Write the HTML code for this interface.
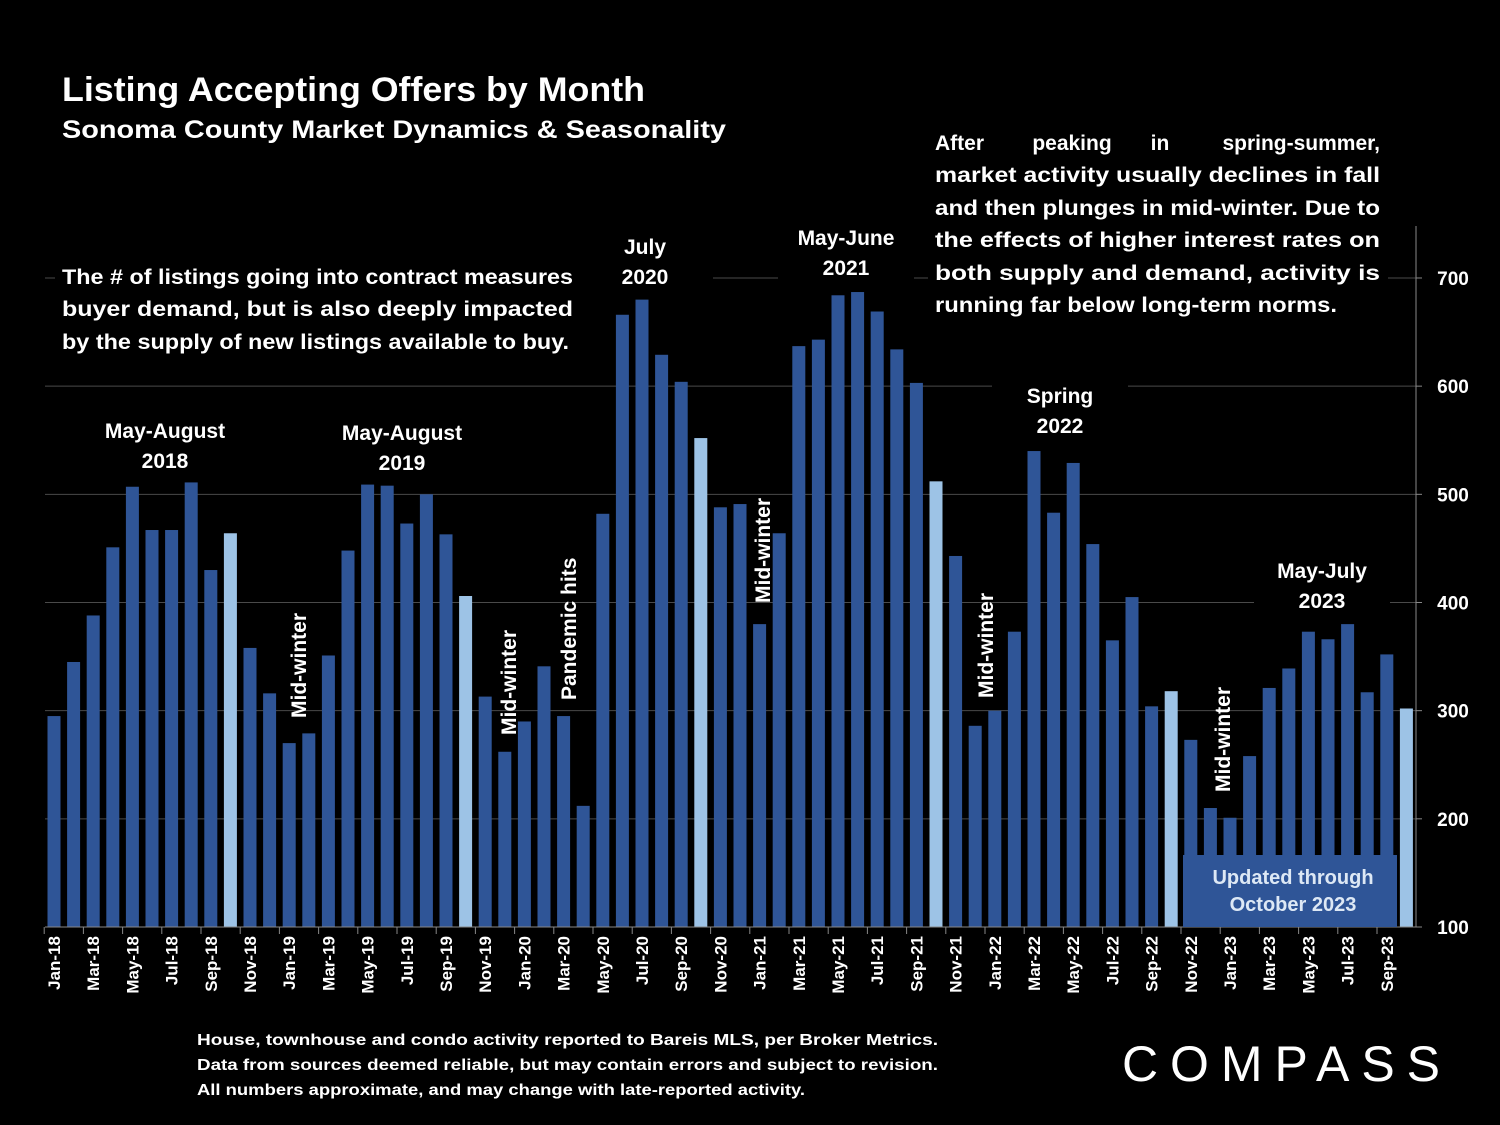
<!DOCTYPE html>
<html><head><meta charset="utf-8"><style>
html,body{margin:0;padding:0;background:#000;}
svg{display:block;font-family:"Liberation Sans",sans-serif;font-weight:bold;}
</style></head><body>
<svg id="chart" width="1500" height="1125" viewBox="0 0 1500 1125" xmlns="http://www.w3.org/2000/svg">
<rect width="1500" height="1125" fill="#000"/>
<g id="grid"></g>
<g id="bars"></g>
<g id="axes"></g>
<text x="62" y="101" fill="#fff" font-size="34" textLength="583" lengthAdjust="spacingAndGlyphs">Listing Accepting Offers by Month</text>
<text x="62" y="138" fill="#fff" font-size="25" textLength="664" lengthAdjust="spacingAndGlyphs">Sonoma County Market Dynamics &amp; Seasonality</text>
<g fill="#fff" font-size="21">
<rect x="55" y="258" width="525" height="100" fill="#000"/>
<text x="62" y="284" textLength="511" lengthAdjust="spacingAndGlyphs">The # of listings going into contract measures</text>
<text x="62" y="316" textLength="511" lengthAdjust="spacingAndGlyphs">buyer demand, but is also deeply impacted</text>
<text x="62" y="349" textLength="507" lengthAdjust="spacingAndGlyphs">by the supply of new listings available to buy.</text>
</g>
<g fill="#fff" font-size="21">
<rect x="928" y="122" width="460" height="200" fill="#000"/>
<text x="935" y="150">After</text>
<text x="1072" y="150" text-anchor="middle">peaking</text>
<text x="1160" y="150" text-anchor="middle">in</text>
<text x="1380" y="150" text-anchor="end">spring-summer,</text>
<text x="935" y="182" textLength="445" lengthAdjust="spacingAndGlyphs">market activity usually declines in fall</text>
<text x="935" y="215" textLength="445" lengthAdjust="spacingAndGlyphs">and then plunges in mid-winter. Due to</text>
<text x="935" y="247" textLength="445" lengthAdjust="spacingAndGlyphs">the effects of higher interest rates on</text>
<text x="935" y="280" textLength="445" lengthAdjust="spacingAndGlyphs">both supply and demand, activity is</text>
<text x="935" y="312" textLength="402" lengthAdjust="spacingAndGlyphs">running far below long-term norms.</text>
</g>
<g id="annots" fill="#fff" font-size="21" text-anchor="middle"></g>
<g>
<rect x="1183" y="855" width="214" height="72" fill="#2f5597"/>
<text x="1293" y="884" fill="#dde8f5" font-size="20" text-anchor="middle">Updated through</text>
<text x="1293" y="911" fill="#dde8f5" font-size="20" text-anchor="middle">October 2023</text>
</g>
<g fill="#fff" font-size="16">
<text x="197" y="1045" textLength="741" lengthAdjust="spacingAndGlyphs">House, townhouse and condo activity reported to Bareis MLS, per Broker Metrics.</text>
<text x="197" y="1070" textLength="741" lengthAdjust="spacingAndGlyphs">Data from sources deemed reliable, but may contain errors and subject to revision.</text>
<text x="197" y="1095" textLength="608" lengthAdjust="spacingAndGlyphs">All numbers approximate, and may change with late-reported activity.</text>
</g>
<g>
<text x="1122" y="1081" fill="#fff" font-size="50" font-weight="normal" textLength="318" lengthAdjust="spacing">COMPASS</text>
</g>
<script>
const months = ["Jan","Feb","Mar","Apr","May","Jun","Jul","Aug","Sep","Oct","Nov","Dec"];
const categories = [];
for (let y = 18; y <= 23; y++) for (let m = 0; m < 12; m++) { if (y === 23 && m > 9) break; categories.push(months[m] + "-" + y); }
const values = [295,345,388,451,507,467,467,511,430,464,358,316,
270,279,351,448,509,508,473,500,463,406,313,262,
290,341,295,212,482,666,680,629,604,552,488,491,
380,464,637,643,684,687,669,634,603,512,443,286,
300,373,540,483,529,454,365,405,304,318,273,210,
201,258,321,339,373,366,380,317,352,302];
const yTicks = [100,200,300,400,500,600,700];
const highlightMonth = "Oct";

const NS = "http://www.w3.org/2000/svg";
const x0 = 54, step = 19.6, bw = 13;
const yScale = v => 927 - (v - 100) * 1.0817;
const xScale = i => x0 + i * step;
function mk(tag, attrs, parent) { const e = document.createElementNS(NS, tag); for (const k in attrs) e.setAttribute(k, attrs[k]); parent.appendChild(e); return e; }

const grid = document.getElementById("grid");
const axes = document.getElementById("axes");
yTicks.forEach(t => {
  if (t > 100) {
    const l = mk("line", {x1: 45, x2: 1416, y1: yScale(t), y2: yScale(t), stroke: "#4a4a4a", "stroke-width": 1}, grid);
    
    
  }
  const tx = mk("text", {x: 1453, y: yScale(t) + 7, fill: "#fff", "font-size": 19, "text-anchor": "middle"}, axes);
  tx.textContent = t;
  
  
  const tk = mk("line", {x1: 1416, x2: 1422, y1: yScale(t), y2: yScale(t), stroke: "#888"}, axes);
  
  
});
const yaxis = mk("line", {x1: 1416, x2: 1416, y1: 226, y2: 927, stroke: "#888"}, axes);


const xaxis = mk("line", {x1: 45, x2: 1416, y1: 927, y2: 927, stroke: "#888"}, axes);



const bars = document.getElementById("bars");
categories.forEach((c, i) => {
  const v = values[i];
  const light = c.startsWith(highlightMonth);
  const r = mk("rect", {x: xScale(i) - bw / 2, y: yScale(v), width: bw, height: 927 - yScale(v), fill: light ? "#9dc3e6" : "#2f5597"}, bars);
  
  
  if (i % 2 === 0) {
    const tk = mk("line", {x1: xScale(i) - step / 2, x2: xScale(i) - step / 2, y1: 927, y2: 934, stroke: "#888"}, axes);
    
    
    const cx = xScale(i) + 6, cy = 936;
    const t = mk("text", {x: cx, y: cy, fill: "#fff", "font-size": 17, "text-anchor": "end", transform: `rotate(-90 ${cx} ${cy})`}, axes);
    t.textContent = c;
    
    
  }
});

const annots = document.getElementById("annots");
const labels = [[165, 438, "May-August", "2018"], [402, 440, "May-August", "2019"], [645, 254, "July", "2020"], [846, 245, "May-June", "2021"], [1060, 403, "Spring", "2022"], [1322, 578, "May-July", "2023"]];
labels.forEach(([x, y, a, b]) => {
  const bg = mk("rect", {x: x - 68, y: y - 22, width: 136, height: 56, fill: "#000"}, annots);
  
  
  const t1 = mk("text", {x: x, y: y}, annots); t1.textContent = a;
  
  
  const t2 = mk("text", {x: x, y: y + 30}, annots); t2.textContent = b;
  
  
});
const vlabels = [[298, 718, "Mid-winter"], [508, 735, "Mid-winter"], [568, 700, "Pandemic hits"], [762, 603, "Mid-winter"], [985, 698, "Mid-winter"], [1222, 792, "Mid-winter"]];
vlabels.forEach(([x, y, s]) => {
  const bx = x + 8;
  const t = mk("text", {x: bx, y: y, "text-anchor": "start", transform: `rotate(-90 ${bx} ${y})`}, annots);
  t.textContent = s;
  
  
});
</script>
</svg>
</body></html>
